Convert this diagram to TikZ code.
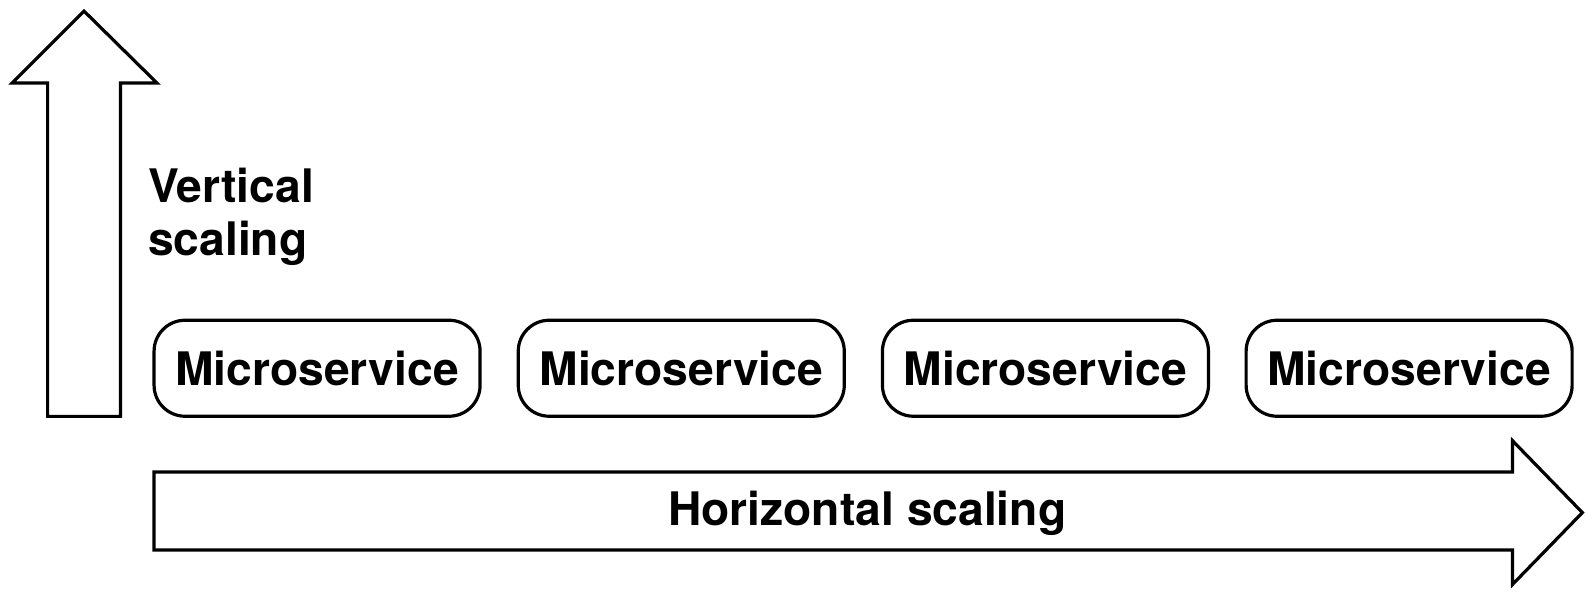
\documentclass[tikz,border=0pt]{standalone}
\usepackage{fontspec}
\setmainfont{TeX Gyre Heros}
\begin{document}
\begin{tikzpicture}[x=1.013pt,y=-1.013pt,
  outline/.style={draw=black,line width=3.2pt,line join=miter,fill=white},
  msbox/.style={draw=black,line width=3.2pt,rounded corners=31pt,minimum width=326pt,minimum height=96pt,inner sep=0pt,font=\fontsize{46.2}{55}\selectfont\bfseries},
  lbl/.style={font=\fontsize{46.2}{53}\selectfont\bfseries,inner sep=0pt}]
\useasboundingbox (0,0) rectangle (1565.6,583.4);
% vertical arrow
\draw[outline] (47,411) -- (47,82) -- (12,82) -- (83,11) -- (155,82) -- (119,82) -- (119,411) -- cycle;
\node[lbl,anchor=north west,align=left] (vlabel) at (146,166) {Vertical\\scaling};
% horizontal arrow
\draw[outline] (152,466) -- (1493,466) -- (1493,435) -- (1562,506) -- (1493,577) -- (1493,543) -- (152,543) -- cycle;
\node[lbl] (hlabel) at (856,507) {Horizontal scaling};
% boxes
\node[msbox] (m1) at (313,363.5) {Microservice};
\node[msbox] (m2) at (672.5,363.5) {Microservice};
\node[msbox] (m3) at (1032,363.5) {Microservice};
\node[msbox] (m4) at (1391,363.5) {Microservice};
\end{tikzpicture}
\end{document}
